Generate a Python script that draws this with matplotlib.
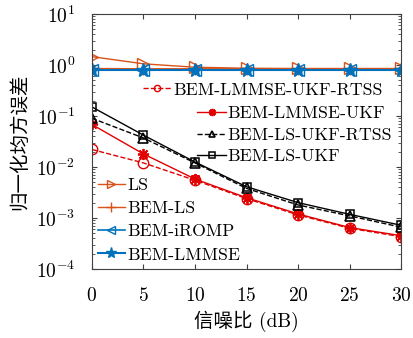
import matplotlib
matplotlib.use("Agg")
import matplotlib.pyplot as plt
import numpy as np

plt.rcParams['mathtext.fontset'] = 'cm'
plt.rcParams['font.family'] = ['cmr10', 'Noto Sans CJK SC']
plt.rcParams['axes.unicode_minus'] = False
plt.rcParams['axes.formatter.use_mathtext'] = True

snr = [0, 5, 10, 15, 20, 25, 30]

ls = [1.45, 1.05, 0.9, 0.86, 0.85, 0.85, 0.85]
bem_ls = [0.85, 0.84, 0.84, 0.84, 0.84, 0.84, 0.84]
bem_iromp = [0.8, 0.8, 0.8, 0.8, 0.8, 0.8, 0.8]
bem_lmmse = [0.8, 0.8, 0.8, 0.8, 0.8, 0.8, 0.8]
lmmse_ukf_rtss = [0.022, 0.012, 0.0055, 0.0024, 0.00115, 0.00063, 0.00043]
lmmse_ukf = [0.068, 0.018, 0.0058, 0.0025, 0.0012, 0.00065, 0.00045]
ls_ukf_rtss = [0.09, 0.037, 0.012, 0.0038, 0.0018, 0.0011, 0.00066]
ls_ukf = [0.15, 0.042, 0.0125, 0.0041, 0.002, 0.00118, 0.00072]

red = '#e00000'
orange = '#d95319'
blue = '#0072bd'
asterisk = (8, 2, 0)

fig = plt.figure(figsize=(4.14, 3.38), dpi=100)
ax = fig.add_axes([0.222, 0.204, 0.747, 0.755])

h1, = ax.plot(snr, lmmse_ukf_rtss, '--', marker='o', color=red, mfc='none', ms=7.5, lw=1)
h2, = ax.plot(snr, lmmse_ukf, '-', marker=asterisk, color=red, ms=8, mew=1.3, lw=1)
h3, = ax.plot(snr, ls_ukf_rtss, '--^', color='k', mfc='none', ms=7, mew=1.2, lw=1)
h4, = ax.plot(snr, ls_ukf, '-s', color='k', mfc='none', ms=6, mew=1.1, lw=1)
h5, = ax.plot(snr, ls, '->', color=orange, mfc='none', ms=8, lw=1)
h6, = ax.plot(snr, bem_ls, '-+', color=orange, ms=9, lw=1)
h7, = ax.plot(snr, bem_iromp, '-<', color=blue, mfc='none', ms=8, lw=1.2)
h8, = ax.plot(snr, bem_lmmse, '-*', color=blue, ms=10, lw=1.5)

ax.set_yscale('log')
ax.set_xlim(0, 30)
ax.set_ylim(1e-4, 10)
ax.set_xticks([0, 5, 10, 15, 20, 25, 30])
ax.tick_params(which='both', direction='in', top=True, right=True, labelsize=14,
               color='#404040')
ax.tick_params(axis='x', pad=13)
ax.tick_params(axis='y', pad=12)
for s in ax.spines.values():
    s.set_color('#404040')

ax.set_xlabel('信噪比 (dB)', fontsize=14)
ax.set_ylabel('归一化均方误差', fontsize=14, family=['Noto Sans CJK SC'])
ax.xaxis.set_label_coords(0.5, -0.165)
ax.yaxis.set_label_coords(-0.2, 0.5)

leg_kw = dict(frameon=False, fontsize=12.8, borderaxespad=0.0, borderpad=0.0)

# first entry sits further left than the other three
leg_a = ax.legend([h1], ['BEM-LMMSE-UKF-RTSS'], loc='center left',
                  bbox_to_anchor=(0.165, 0.702), handlelength=1.63,
                  handletextpad=0.1, markerscale=0.6, **leg_kw)
ax.add_artist(leg_a)
leg_b = ax.legend([h2, h3, h4], ['BEM-LMMSE-UKF', 'BEM-LS-UKF-RTSS', 'BEM-LS-UKF'],
                  loc='center left', bbox_to_anchor=(0.34, 0.525),
                  handlelength=1.63, handletextpad=0.1, labelspacing=0.35,
                  markerscale=0.65, **leg_kw)
ax.add_artist(leg_b)
ax.legend([h5, h6, h7, h8], ['LS', 'BEM-LS', 'BEM-iROMP', 'BEM-LMMSE'],
          loc='center left', bbox_to_anchor=(0.019, 0.192),
          handlelength=1.52, handletextpad=0.15, labelspacing=0.44,
          markerscale=0.8, **leg_kw)

fig.savefig('out.png', dpi=100)
